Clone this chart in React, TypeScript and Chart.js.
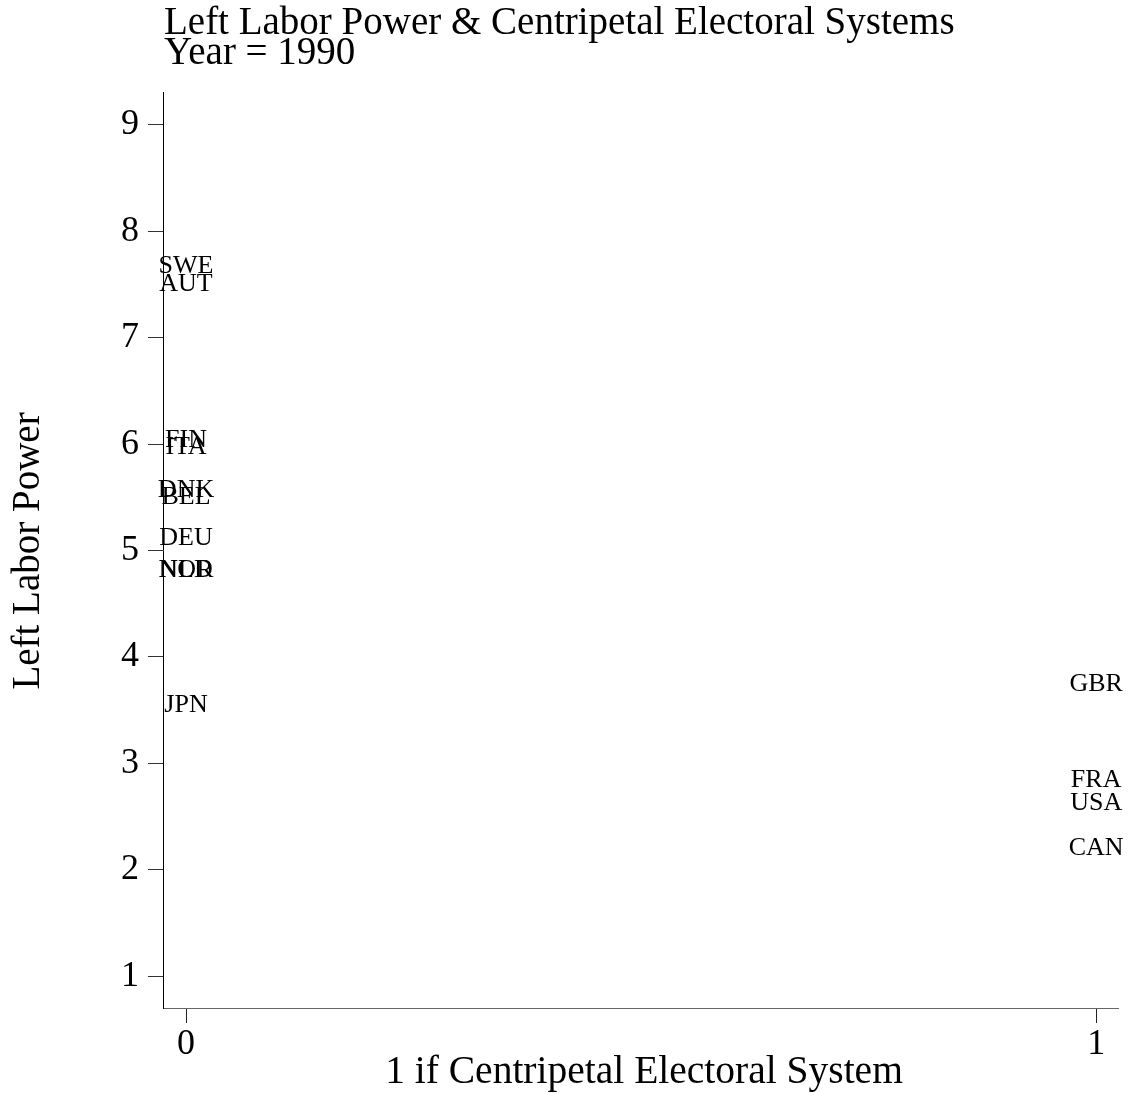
import React, { useEffect, useRef } from "react";
import { Chart, registerables } from "chart.js";

Chart.register(...registerables);

const countries = ["SWE", "AUT", "FIN", "ITA", "DNK", "BEL", "DEU", "NOR", "NLD", "JPN", "GBR", "FRA", "USA", "CAN"];
const centripetal = [0, 0, 0, 0, 0, 0, 0, 0, 0, 0, 1, 1, 1, 1];
const leftLaborPower = [7.69, 7.52, 6.05, 5.99, 5.58, 5.52, 5.13, 4.83, 4.83, 3.56, 3.76, 2.86, 2.64, 2.22];
const xTicks = [0, 1];
const yTicks = [1, 2, 3, 4, 5, 6, 7, 8, 9];
const titleLines = ["Left Labor Power & Centripetal Electoral Systems", "Year = 1990"];
const xTitle = "1 if Centripetal Electoral System";
const yTitle = "Left Labor Power";

const SERIF = "'Liberation Serif', 'Times New Roman', serif";

const W = 1129;
const H = 1093;

const textPlugin = {
  id: "textPlugin",
  afterDatasetsDraw(chart: any) {
    const ctx = chart.ctx as CanvasRenderingContext2D;
    ctx.save();
    ctx.fillStyle = "#000";
    // point labels
    const meta = chart.getDatasetMeta(0);
    const size = 26;
    ctx.font = `${size}px ${SERIF}`;
    ctx.textAlign = "center";
    ctx.textBaseline = "alphabetic";
    meta.data.forEach((pt: any, i: number) => {
      ctx.fillText(countries[i], pt.x, pt.y + size * 0.331);
    });
    // title
    ctx.font = `39px ${SERIF}`;
    ctx.textAlign = "left";
    ctx.fillText(titleLines[0], 164, 34);
    ctx.fillText(titleLines[1], 164, 64);
    // x title
    ctx.font = `39.5px ${SERIF}`;
    ctx.textAlign = "center";
    ctx.fillText(xTitle, 644, 1083);
    // y title
    ctx.font = `39px ${SERIF}`;
    ctx.translate(39, 551);
    ctx.rotate(-Math.PI / 2);
    ctx.fillText(yTitle, 0, 0);
    ctx.restore();
  },
};

export default function App() {
  const ref = useRef<HTMLCanvasElement | null>(null);
  useEffect(() => {
    if (!ref.current) return;
    const chart = new Chart(ref.current, {
      type: "scatter",
      data: {
        datasets: [
          {
            data: countries.map((_, i) => ({ x: centripetal[i], y: leftLaborPower[i] })),
            pointRadius: 0,
            pointHoverRadius: 0,
            showLine: false,
          },
        ],
      },
      options: {
        responsive: false,
        animation: false,
        devicePixelRatio: 1,
        layout: { padding: { top: 92, right: 11, left: 0, bottom: 0 } },
        plugins: {
          legend: { display: false },
          title: { display: false },
          tooltip: { enabled: false },
        },
        scales: {
          x: {
            type: "linear",
            min: -0.0253,
            max: 1.024,
            afterBuildTicks: (scale: any) => {
              scale.ticks = xTicks.map((v) => ({ value: v }));
            },
            afterFit: (scale: any) => {
              scale.height = 85;
            },
            ticks: {
              font: { family: SERIF, size: 36 },
              color: "#000",
              padding: 0,
              maxRotation: 0,
              autoSkip: false,
            },
            grid: {
              drawOnChartArea: false,
              drawTicks: true,
              tickLength: 15,
              color: "#222",
            },
            border: { display: true, color: "#666", width: 1 },
          },
          y: {
            type: "linear",
            min: 0.7,
            max: 9.31,
            afterBuildTicks: (scale: any) => {
              scale.ticks = yTicks.map((v) => ({ value: v }));
            },
            afterFit: (scale: any) => {
              scale.width = 163;
            },
            ticks: {
              font: { family: SERIF, size: 36 },
              color: "#000",
              padding: 9,
              autoSkip: false,
            },
            grid: {
              drawOnChartArea: false,
              drawTicks: true,
              tickLength: 15,
              color: "#333",
            },
            border: { display: true, color: "#000", width: 1 },
          },
        },
      },
      plugins: [textPlugin],
    });
    return () => chart.destroy();
  }, []);
  return (
    <div style={{ position: "absolute", left: 0, top: 0, width: W, height: H, background: "#fff" }}>
      <canvas ref={ref} width={W} height={H} style={{ width: W, height: H, display: "block" }} />
    </div>
  );
}
